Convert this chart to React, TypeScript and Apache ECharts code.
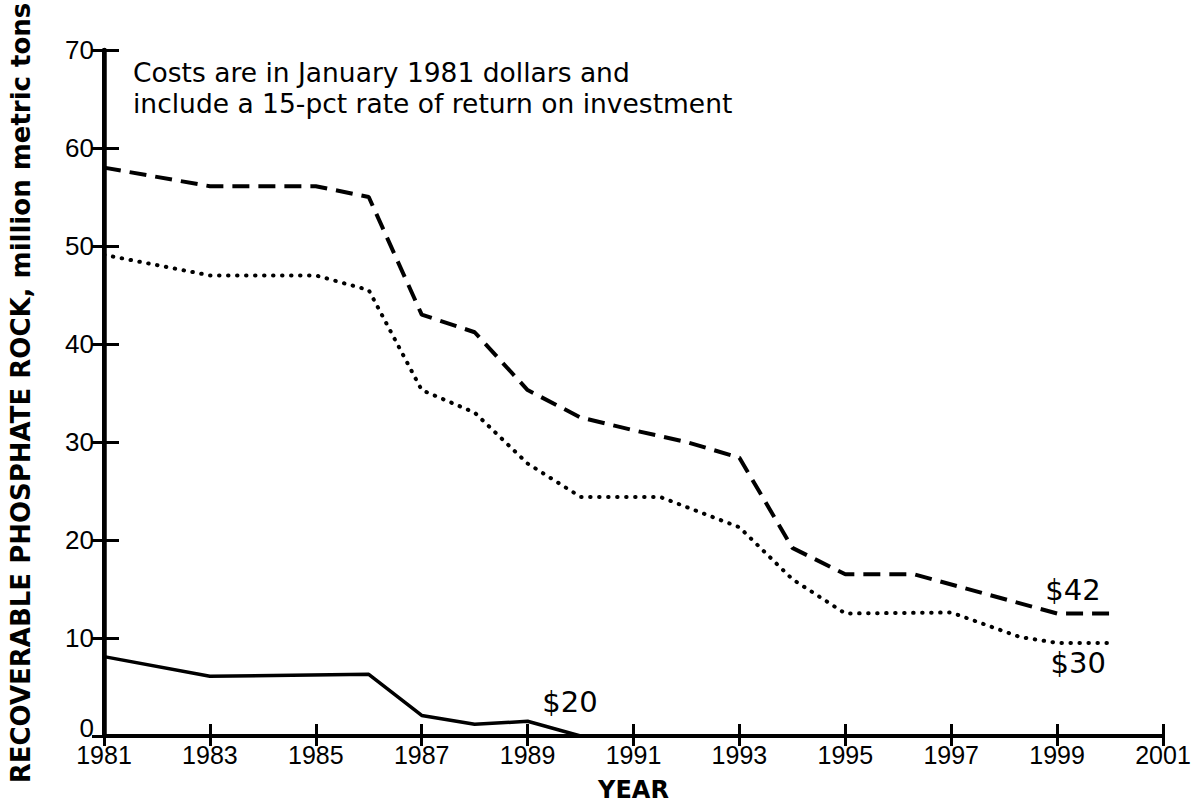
import React, { useEffect, useRef } from "react";
import * as echarts from "echarts";

// ---- data ----
const BASE_YEAR = 1981;
const X_TICK_LABELS = ["1981", "1983", "1985", "1987", "1989", "1991", "1993", "1995", "1997", "1999", "2001"];

const YEARS_42 = [1981, 1983, 1985, 1986, 1987, 1988, 1989, 1990, 1991, 1992, 1993, 1994, 1995, 1996.3, 1999, 2000];
const VALUES_42 = [58, 56.1, 56.1, 55, 43, 41.2, 35.3, 32.5, 31.2, 30, 28.4, 19.2, 16.5, 16.5, 12.5, 12.5];

const YEARS_30 = [1981, 1983, 1985, 1986, 1987, 1988, 1989, 1990, 1991.5, 1993, 1994, 1995, 1997, 1998.3, 1999, 2000];
const VALUES_30 = [49.1, 47, 47, 45.5, 35.3, 33, 27.8, 24.4, 24.4, 21.3, 16, 12.5, 12.6, 10.1, 9.5, 9.5];

const YEARS_20 = [1981, 1983, 1986, 1987, 1988, 1989, 1990];
const VALUES_20 = [8.1, 6.1, 6.3, 2.1, 1.2, 1.5, 0];

const LABEL_42 = { text: "$42", year: 1999.3, value: 14.9 };
const LABEL_30 = { text: "$30", year: 1999.4, value: 7.4 };
const LABEL_20 = { text: "$20", year: 1989.8, value: 3.5 };

const NOTE_LINES = [
  "Costs are in January 1981 dollars and",
  "include a 15-pct rate of return on investment",
];

const toPairs = (years: number[], values: number[]) =>
  years.map((y, i) => [y - BASE_YEAR, values[i]]);

const labelPoint = (l: { text: string; year: number; value: number }) => ({
  symbol: "circle",
  symbolSize: 0,
  silent: true,
  label: {
    show: true,
    position: "inside",
    formatter: l.text,
    color: "#000",
    fontFamily: "DejaVu Sans",
    fontSize: 29,
  },
  data: [{ coord: [l.year - BASE_YEAR, l.value] }],
});

export default function App() {
  const ref = useRef<HTMLDivElement>(null);

  useEffect(() => {
    if (!ref.current) return;
    const chart = echarts.init(ref.current, undefined, { renderer: "svg" });
    const axisLine = { show: true, lineStyle: { color: "#000", width: 4 } };
    const font = "Liberation Sans";
    chart.setOption({
      animation: false,
      backgroundColor: "#fff",
      grid: { left: 104, right: 31, top: 50, bottom: 69, containLabel: false, outerBoundsMode: "none" },
      graphic: NOTE_LINES.map((t, i) => ({
        type: "text",
        left: 133,
        top: 59 + i * 31,
        style: {
          text: t,
          fontFamily: "DejaVu Sans",
          fontSize: 26.5,
          fill: "#000",
        },
      })),
      xAxis: [
        {
          type: "value",
          position: "bottom",
          min: 0,
          max: 20,
          interval: 2,
          name: "YEAR",
          nameLocation: "middle",
          nameGap: 42,
          nameTextStyle: { fontFamily: "DejaVu Sans", fontWeight: "bold", fontSize: 24, color: "#000" },
          axisLine,
          axisTick: { show: true, inside: true, length: 12, lineStyle: { color: "#000", width: 3 } },
          axisLabel: {
            color: "#000",
            fontFamily: font,
            fontSize: 25,
            margin: 6,
            formatter: (v: number) => X_TICK_LABELS[Math.round(v / 2)] ?? "",
          },
          splitLine: { show: false },
        },
        {
          type: "value",
          position: "top",
          min: 0,
          max: 20,
          interval: 2,
          axisLine,
          axisTick: { show: true, inside: true, length: 10, lineStyle: { color: "#000", width: 3 } },
          axisLabel: { show: false },
          splitLine: { show: false },
        },
      ],
      yAxis: [
        {
          type: "value",
          position: "left",
          min: 0,
          max: 70,
          interval: 10,
          name: "RECOVERABLE PHOSPHATE ROCK, million metric tons",
          nameLocation: "middle",
          nameGap: 70,
          nameRotate: 90,
          nameTextStyle: { fontFamily: "DejaVu Sans", fontWeight: "bold", fontSize: 26, color: "#000" },
          axisLine: { show: true, lineStyle: { color: "#000", width: 4.5 } },
          axisTick: { show: true, inside: true, length: 15, lineStyle: { color: "#000", width: 3 } },
          axisLabel: {
            color: "#000",
            fontFamily: font,
            fontSize: 26,
            margin: 10,
            formatter: (v: number) => (v === 0 ? "{z|0}" : String(v)),
            rich: { z: { fontFamily: font, fontSize: 26, color: "#000", padding: [0, 0, 16, 0] } },
          },
          splitLine: { show: false },
        },
        {
          type: "value",
          position: "right",
          min: 0,
          max: 70,
          interval: 10,
          axisLine,
          axisTick: { show: true, inside: true, length: 12, lineStyle: { color: "#000", width: 3 } },
          axisLabel: { show: false },
          splitLine: { show: false },
        },
      ],
      series: [
        {
          type: "line",
          name: "$42",
          xAxisIndex: 0,
          yAxisIndex: 0,
          data: toPairs(YEARS_42, VALUES_42),
          showSymbol: false,
          lineStyle: { color: "#000", width: 4, type: [17, 9] },
          markPoint: labelPoint(LABEL_42),
        },
        {
          type: "line",
          name: "$30",
          xAxisIndex: 0,
          yAxisIndex: 0,
          data: toPairs(YEARS_30, VALUES_30),
          showSymbol: false,
          lineStyle: { color: "#000", width: 4, type: [0.5, 8.5], cap: "round" },
          markPoint: labelPoint(LABEL_30),
        },
        {
          type: "line",
          name: "$20",
          xAxisIndex: 0,
          yAxisIndex: 0,
          data: toPairs(YEARS_20, VALUES_20),
          showSymbol: false,
          lineStyle: { color: "#000", width: 3.5 },
          markPoint: labelPoint(LABEL_20),
        },
      ],
    });
    return () => chart.dispose();
  }, []);

  return (
    <div
      ref={ref}
      style={{ position: "fixed", left: 0, top: 0, width: 1194, height: 805, background: "#fff" }}
    />
  );
}
